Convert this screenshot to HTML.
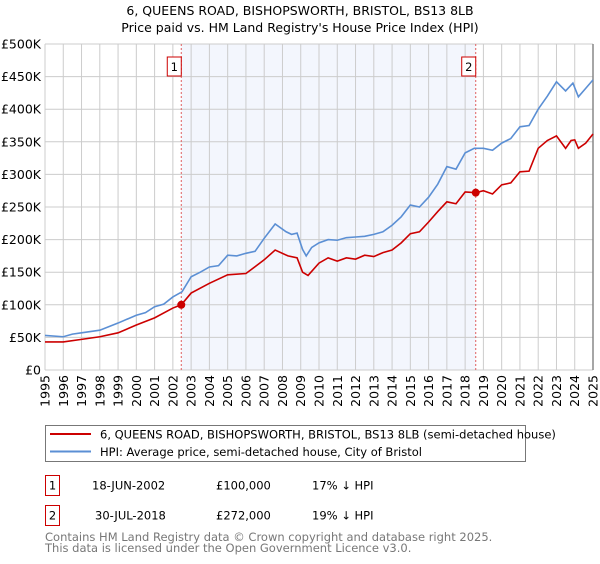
<!DOCTYPE html>
<html><head><meta charset="utf-8"><style>
body{margin:0;background:#fff;font-family:"DejaVu Sans","Liberation Sans",sans-serif;}
svg text{font-family:"DejaVu Sans","Liberation Sans",sans-serif;}
</style></head><body>
<svg id="chart" width="600" height="560" viewBox="0 0 600 560" xmlns="http://www.w3.org/2000/svg">
<text x="300" y="15" text-anchor="middle" font-size="12.5">6, QUEENS ROAD, BISHOPSWORTH, BRISTOL, BS13 8LB</text>
<text x="300" y="32" text-anchor="middle" font-size="12.5">Price paid vs. HM Land Registry's House Price Index (HPI)</text>
<g id="plot"></g>
<g>
<rect x="45.5" y="425.5" width="480" height="36" fill="#fff" stroke="#777"/>
<line x1="50" y1="434" x2="91" y2="434" stroke="#cc0000" stroke-width="2"/>
<text x="100" y="438.5" font-size="11.5">6, QUEENS ROAD, BISHOPSWORTH, BRISTOL, BS13 8LB (semi-detached house)</text>
<line x1="50" y1="451.5" x2="91" y2="451.5" stroke="#5b8fd4" stroke-width="2"/>
<text x="100" y="456" font-size="11.5">HPI: Average price, semi-detached house, City of Bristol</text>
</g>
<g font-size="11.5">
<rect x="45.5" y="475.5" width="14" height="20" fill="#fff" stroke="#cc0000"/>
<text x="52.5" y="489.5" text-anchor="middle">1</text>
<text x="92" y="489.5">18-JUN-2002</text>
<text x="216" y="489.5">£100,000</text>
<text x="312" y="489.5">17% ↓ HPI</text>
</g>
<g font-size="11.5">
<rect x="45.5" y="505.5" width="14" height="20" fill="#fff" stroke="#cc0000"/>
<text x="52.5" y="519.5" text-anchor="middle">2</text>
<text x="95" y="519.5">30-JUL-2018</text>
<text x="216" y="519.5">£272,000</text>
<text x="312" y="519.5">19% ↓ HPI</text>
</g>
<text x="45" y="541" font-size="11.5" fill="#777">Contains HM Land Registry data © Crown copyright and database right 2025.</text>
<text x="45" y="552" font-size="11.5" fill="#777">This data is licensed under the Open Government Licence v3.0.</text>
</svg>
<script>
const hpiYears=[1995,1996,1996.5,1997,1998,1999,2000,2000.5,2001,2001.5,2002,2002.5,2003,2003.5,2004,2004.5,2005,2005.5,2006,2006.5,2007,2007.6,2008.2,2008.5,2008.8,2009.1,2009.3,2009.6,2010,2010.5,2011,2011.5,2012,2012.5,2013,2013.5,2014,2014.5,2015,2015.5,2016,2016.5,2017,2017.5,2018,2018.5,2019,2019.5,2020,2020.5,2021,2021.5,2022,2022.5,2023,2023.5,2023.9,2024.2,2024.6,2025];
const hpiValues=[53,51,55,57,61,72,84,88,97,101,112,120,143,150,158,160,176,175,179,182,202,224,212,208,210,185,175,188,195,200,199,203,204,205,208,212,222,235,253,250,265,285,312,308,333,340,340,337,348,355,373,375,400,420,442,428,440,419,432,445];
const priceYears=[1995,1996,1997,1998,1999,2000,2001,2002,2002.46,2003,2004,2005,2006,2007,2007.6,2008.3,2008.8,2009.1,2009.4,2010,2010.5,2011,2011.5,2012,2012.5,2013,2013.5,2014,2014.5,2015,2015.5,2016,2016.5,2017,2017.5,2018,2018.58,2019,2019.5,2020,2020.5,2021,2021.5,2022,2022.5,2023,2023.5,2023.8,2024,2024.2,2024.6,2025];
const priceValues=[43,43,47,51,57,69,80,95,100,118,133,146,148,169,184,175,172,150,145,164,172,167,172,170,176,174,180,184,195,209,212,227,243,258,255,273,272,275,270,284,287,304,305,340,352,359,340,352,353,340,348,362];
const saleYears=[2002.46,2018.58];
const saleValues=[100,272];
const saleLabels=["1","2"];
const yTicks=[0,50,100,150,200,250,300,350,400,450,500];
const yTickLabels=["£0","£50K","£100K","£150K","£200K","£250K","£300K","£350K","£400K","£450K","£500K"];
const xTicks=[1995,1996,1997,1998,1999,2000,2001,2002,2003,2004,2005,2006,2007,2008,2009,2010,2011,2012,2013,2014,2015,2016,2017,2018,2019,2020,2021,2022,2023,2024,2025];

const L=45,R=593,T=44,B=370;
const X=y=>L+(y-1995)*(R-L)/30;
const Y=v=>B-v*(B-T)/500;
const NS="http://www.w3.org/2000/svg";
const g=document.getElementById('plot');
function mk(t,a){const e=document.createElementNS(NS,t);for(const k in a)e.setAttribute(k,a[k]);g.appendChild(e);return e;}
const bg=mk('rect',{x:L,y:T,width:R-L,height:B-T,fill:'#fff'});


const sh=mk('rect',{x:X(saleYears[0]),y:T,width:X(saleYears[1])-X(saleYears[0]),height:B-T,fill:'#f3f6fd'});


yTicks.forEach((v,i)=>{
 const l=mk('line',{x1:L,x2:R,y1:Y(v),y2:Y(v),stroke:'#ccc'});
 
 
 const t=mk('text',{x:L-4,y:Y(v)+4.5,'text-anchor':'end','font-size':'12.5'});
 t.textContent=yTickLabels[i];
 
 
});
xTicks.forEach(v=>{
 const l=mk('line',{x1:X(v),x2:X(v),y1:T,y2:B,stroke:'#ccc'});
 
 
 const t=mk('text',{x:0,y:0,'font-size':'12.5','text-anchor':'end',transform:`translate(${X(v)+4.5},${B+5}) rotate(-90)`});
 t.textContent=v;
 
 
});
const edge=mk('line',{x1:R,x2:R,y1:T,y2:B,stroke:'#888','stroke-width':1.5});


saleYears.forEach((s,i)=>{
 const l=mk('line',{x1:X(s),x2:X(s),y1:T,y2:B,stroke:'#e06060','stroke-dasharray':'2,2'});
 
 
 const r=mk('rect',{x:X(s)-14,y:T+13,width:14,height:19,fill:'#fff',stroke:'#cc0000'});
 
 
 const t=mk('text',{x:X(s)-7,y:T+27,'text-anchor':'middle','font-size':'11.5'});
 t.textContent=saleLabels[i];
 
 
});
const hp=mk('polyline',{points:hpiYears.map((y,i)=>X(y)+','+Y(hpiValues[i])).join(' '),fill:'none',stroke:'#5b8fd4','stroke-width':1.6});


const pp=mk('polyline',{points:priceYears.map((y,i)=>X(y)+','+Y(priceValues[i])).join(' '),fill:'none',stroke:'#cc0000','stroke-width':1.6});


saleYears.forEach((s,i)=>{
 const c=mk('circle',{cx:X(s),cy:Y(saleValues[i]),r:4,fill:'#cc0000'});
 
 
});
</script>
</body></html>
